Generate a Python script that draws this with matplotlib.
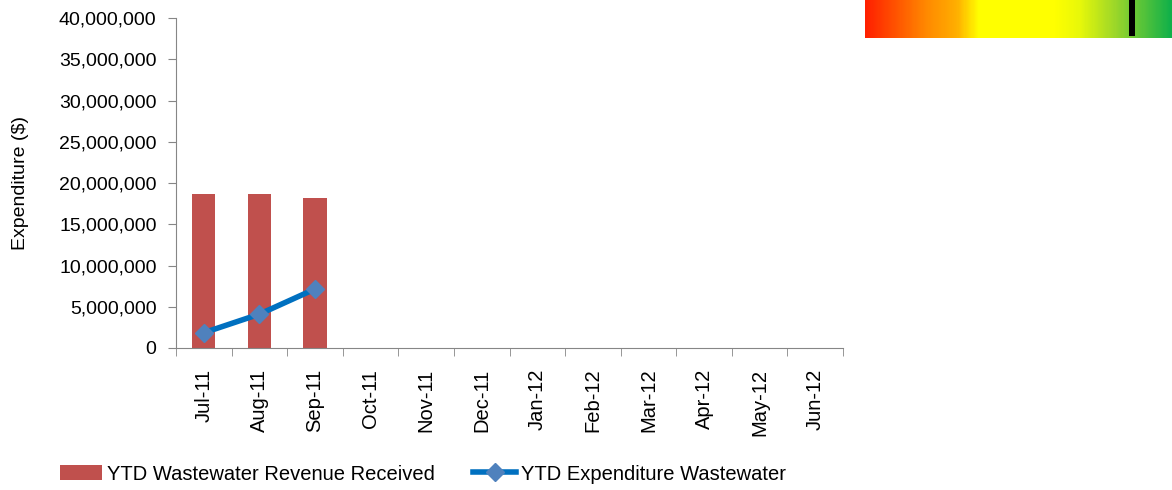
import numpy as np
import matplotlib.pyplot as plt
from matplotlib.colors import LinearSegmentedColormap
from matplotlib.ticker import FuncFormatter

plt.rcParams['font.family'] = ['Liberation Sans', 'DejaVu Sans']

months = ['Jul-11', 'Aug-11', 'Sep-11', 'Oct-11', 'Nov-11', 'Dec-11',
          'Jan-12', 'Feb-12', 'Mar-12', 'Apr-12', 'May-12', 'Jun-12']
revenue = [18700000, 18700000, 18200000]
expenditure = [1850000, 4100000, 7150000]

# traffic-light gauge in the top right corner
gauge_colors = ['#ff2000', '#ff8a00', '#ffb000', '#ffff00', '#ffff00', '#e8f80a', '#9ad62a', '#10b04a']
gauge_stops = [0.0, 0.2, 0.3, 0.37, 0.62, 0.7, 0.82, 1.0]
gauge_value = 0.87

fs = 14
fig = plt.figure(figsize=(11.72, 4.9), dpi=100)
ax = fig.add_axes([176 / 1172, 1 - 348 / 490, (843 - 176) / 1172, (348 - 18) / 490])

x = np.arange(len(months))
bars = ax.bar(x[:len(revenue)], revenue, width=0.42, color='#c0504d', zorder=2,
              label='YTD Wastewater Revenue Received')
line, = ax.plot(x[:len(expenditure)], expenditure, color='#0070c0', linewidth=4,
                marker='D', markersize=9, markerfacecolor='#4f81bd', markeredgecolor='#4f81bd',
                zorder=3, label='YTD Expenditure Wastewater')

ax.set_xlim(-0.5, len(months) - 0.5)
ax.set_ylim(0, 40000000)
ax.set_yticks(np.arange(0, 40000001, 5000000))
ax.yaxis.set_major_formatter(FuncFormatter(lambda v, p: f'{int(v):,}'))
ax.set_xticks(x)
ax.set_xticklabels(months, rotation=90, fontsize=14.5)
ax.set_xticks(np.arange(-0.5, len(months)), minor=True)
ax.tick_params(axis='x', which='major', length=0, pad=15)
ax.tick_params(axis='x', which='minor', length=6, color='#868686', direction='out')
ax.tick_params(axis='y', length=6, color='#868686', labelsize=fs, pad=8)
ax.set_ylabel('Expenditure ($)', fontsize=fs)
ax.yaxis.set_label_coords(-0.22, 0.5)

for s in ['top', 'right']:
    ax.spines[s].set_visible(False)
for s in ['left', 'bottom']:
    ax.spines[s].set_color('#868686')

fig.legend([bars, line], [bars.get_label(), line.get_label()],
           loc='center left', bbox_to_anchor=(60 / 1172, 1 - 474 / 490), ncol=2, frameon=False,
           fontsize=14.5, handlelength=2.1, columnspacing=1.9, handletextpad=0.25,
           borderaxespad=0, borderpad=0)

gax = fig.add_axes([865 / 1172, 1 - 38 / 490, (1172 - 865) / 1172, 38 / 490])
cmap = LinearSegmentedColormap.from_list('gauge', list(zip(gauge_stops, gauge_colors)))
gax.imshow(np.linspace(0, 1, 300)[None, :], aspect='auto', cmap=cmap, extent=[0, 1, 0, 1])
gax.bar(gauge_value, 0.94, width=0.022, bottom=0.06, color='black')
gax.set_xlim(0, 1)
gax.set_ylim(0, 1)
gax.axis('off')

fig.savefig('out.png', dpi=100)
